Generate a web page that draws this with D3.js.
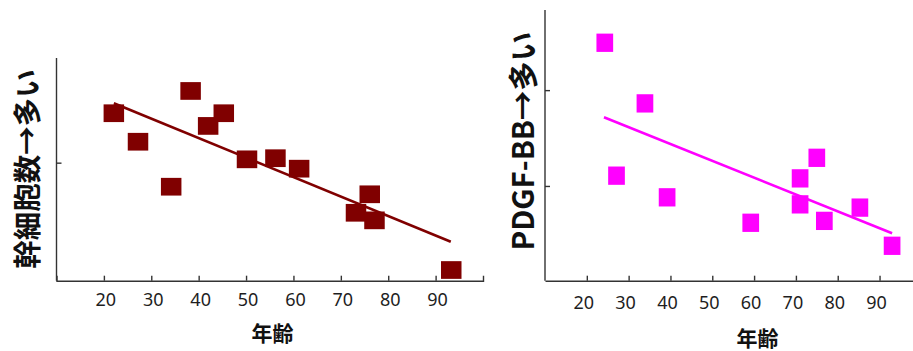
<!DOCTYPE html>
<html>
<head>
<meta charset="utf-8">
<script src="https://cdn.jsdelivr.net/npm/d3@7/dist/d3.min.js"></script>
<style>
  html, body { margin: 0; padding: 0; background: #fff; }
  svg { display: block; }
</style>
</head>
<body>
<svg id="chart" width="913" height="351"></svg>
<script>
// ---- Data ----
// Left panel: stem cell count vs age
const leftAge   = [22.1, 27.2, 34.2, 38.3, 42.0, 45.3, 50.2, 56.2, 61.2, 73.2, 76.1, 77.1, 93.3];
const leftValue = [75.2, 62.4, 42.2, 85.2, 69.5, 75.2, 54.5, 55.0, 50.3, 30.5, 38.8, 27.1, 4.8];
const leftFitX  = [22.1, 93.2];
const leftFitY  = [79.7, 17.5];

// Right panel: PDGF-BB vs age
const rightAge   = [24.3, 27.1, 33.9, 39.2, 59.2, 71.0, 71.0, 75.0, 76.8, 85.3, 93.0];
const rightValue = [87.9, 38.8, 65.5, 30.8, 21.4, 37.8, 28.2, 45.4, 22.1, 27.0, 12.9];
const rightFitX  = [24.1, 93.0];
const rightFitY  = [60.4, 17.5];

const xTickValues = [20, 30, 40, 50, 60, 70, 80, 90];
const xTickLabels = ["20", "30", "40", "50", "60", "70", "80", "90"];
const leftYTicks  = [53];
const rightYTicks = [35, 70.4];

const xTitle      = "年齢";
const leftYTitle  = "幹細胞数→多い";
const rightYTitle = "PDGF-BB→多い";

// ---- Drawing ----
const svg = d3.select("#chart");
const axisColor = "#333";
const tickFont = "'Noto Sans', 'Open Sans', sans-serif";
const cjkFont = "'Noto Sans CJK JP', 'Noto Sans', sans-serif";

function panel(cfg) {
  const g = svg.append("g");
  const x = d3.scaleLinear().domain(cfg.xDomain).range(cfg.xRange);
  const y = d3.scaleLinear().domain([0, 100]).range(cfg.yRange);

  // x axis
  const xAxis = d3.axisBottom(x)
    .tickValues(xTickValues)
    .tickSizeInner(-5)
    .tickSizeOuter(cfg.outerTick)
    .tickFormat("");
  const gx = g.append("g")
    .attr("transform", `translate(0,${cfg.yRange[0]})`)
    .call(xAxis);
  gx.selectAll("path, line").attr("stroke", axisColor).attr("stroke-width", 1.4);

  // x tick labels
  g.append("g").selectAll("text")
    .data(xTickValues)
    .join("text")
    .attr("x", (d) => x(d) + cfg.labelDx)
    .attr("y", cfg.yRange[0] + cfg.labelDy)
    .attr("text-anchor", "middle")
    .attr("dominant-baseline", "central")
    .attr("font-family", tickFont)
    .attr("font-size", 18)
    .attr("fill", "#1e1e1e")
    .text((d, i) => xTickLabels[i]);

  // y axis
  const yAxis = d3.axisLeft(y)
    .tickValues(cfg.yTicks)
    .tickSizeInner(-5)
    .tickSizeOuter(0)
    .tickFormat("");
  const gy = g.append("g")
    .attr("transform", `translate(${cfg.xRange[0]},0)`)
    .call(yAxis);
  gy.select(".domain").attr("d", `M0,${cfg.yRange[0]}V${cfg.yTop}`);
  gy.selectAll("path, line").attr("stroke", axisColor).attr("stroke-width", 1.4);

  // titles
  g.append("text")
    .attr("x", cfg.xTitlePos[0]).attr("y", cfg.xTitlePos[1])
    .attr("text-anchor", "middle")
    .attr("dominant-baseline", "central")
    .attr("font-family", cjkFont)
    .attr("font-weight", "bold")
    .attr("font-size", 21)
    .attr("fill", "#111")
    .text(xTitle);

  g.append("text")
    .attr("transform", `translate(${cfg.yTitlePos[0]},${cfg.yTitlePos[1]}) rotate(-90)`)
    .attr("text-anchor", "middle")
    .attr("dominant-baseline", "central")
    .attr("font-family", cjkFont)
    .attr("font-weight", "bold")
    .attr("font-size", cfg.yTitleSize)
    .attr("fill", "#111")
    .text(cfg.yTitle);

  // fit line
  const line = d3.line().x((d) => x(d[0])).y((d) => y(d[1]));
  g.append("path")
    .datum(cfg.fitX.map((v, i) => [v, cfg.fitY[i]]))
    .attr("d", line)
    .attr("fill", "none")
    .attr("stroke", cfg.color)
    .attr("stroke-width", 2.6);

  // points
  g.append("g").selectAll("rect")
    .data(cfg.xs.map((v, i) => [v, cfg.ys[i]]))
    .join("rect")
    .attr("x", (d) => x(d[0]) - cfg.mw / 2)
    .attr("y", (d) => y(d[1]) - cfg.mh / 2)
    .attr("width", cfg.mw)
    .attr("height", cfg.mh)
    .attr("fill", cfg.color);
}

panel({
  xs: leftAge, ys: leftValue, fitX: leftFitX, fitY: leftFitY,
  xDomain: [10, 100], xRange: [56.5, 483],
  yRange: [280.7, 58], yTop: 58,
  yTicks: leftYTicks, outerTick: -5,
  labelDx: 2, labelDy: 18,
  xTitlePos: [272.5, 332],
  yTitle: leftYTitle, yTitlePos: [25.5, 169], yTitleSize: 28.5,
  color: "#800000", mw: 20.5, mh: 17.7
});

panel({
  xs: rightAge, ys: rightValue, fitX: rightFitX, fitY: rightFitY,
  xDomain: [10, 98], xRange: [545, 913],
  yRange: [280.7, 10], yTop: 10,
  yTicks: rightYTicks, outerTick: 0,
  labelDx: -3, labelDy: 21,
  xTitlePos: [757.5, 337],
  yTitle: rightYTitle, yTitlePos: [520.5, 141], yTitleSize: 29.5,
  color: "#ff00ff", mw: 16.7, mh: 18.3
});
</script>
</body>
</html>
